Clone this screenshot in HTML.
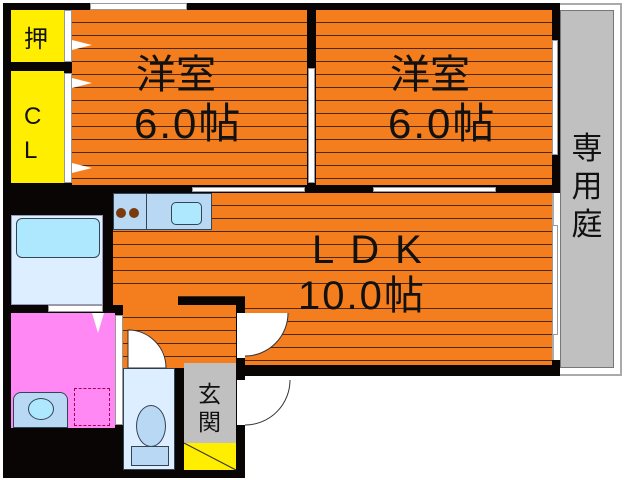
<!DOCTYPE html>
<html><head><meta charset="utf-8"><style>
body{margin:0;width:629px;height:480px;background:#fff;position:relative;overflow:hidden;font-family:"Liberation Sans","Noto Sans CJK JP",sans-serif}
div{position:absolute;box-sizing:border-box}
.b{background:#0a0505}
.o{background:#f47d1e;background-image:repeating-linear-gradient(180deg,transparent 0 12px,#4a2a10 12px 13px)}
.w{background:#fff;border:1px solid #999}
.t{color:#111;white-space:nowrap;line-height:1}
</style></head><body>
<!-- garden -->
<div style="left:552px;top:3px;width:70px;height:373px;border:2px solid #aaa;background:#fff"></div>
<div style="left:560px;top:10px;width:54px;height:358px;background:#c0c0c0;border:1px solid #777"></div>
<div class="t" style="left:570px;top:130px;font-size:31px;width:34px;line-height:38px;text-align:center">専<br>用<br>庭</div>
<!-- outer black base -->
<div class="b" style="left:3px;top:3px;width:557px;height:190px"></div>
<div class="b" style="left:3px;top:185px;width:120px;height:293px"></div>
<div class="b" style="left:100px;top:296px;width:145px;height:182px"></div>
<div class="b" style="left:236px;top:360px;width:324px;height:16px"></div>
<!-- top window -->
<div class="w" style="left:90px;top:3px;width:97px;height:7px"></div>
<!-- rooms -->
<div class="o" style="left:72px;top:10px;width:235px;height:175px"></div>
<div class="o" style="left:316px;top:10px;width:236px;height:175px"></div>
<div class="o" style="left:113px;top:193px;width:439px;height:104px"></div>
<div class="o" style="left:113px;top:296px;width:65px;height:9px"></div>
<div class="o" style="left:245px;top:296px;width:307px;height:69px"></div>
<div class="o" style="left:123px;top:305px;width:113px;height:63px"></div>
<!-- windows / doors white strips -->
<div class="w" style="left:308px;top:68px;width:7px;height:115px"></div>
<div class="w" style="left:552px;top:40px;width:6px;height:115px"></div>
<div class="w" style="left:552px;top:225px;width:6px;height:110px"></div>
<div class="w" style="left:192px;top:187px;width:113px;height:5px"></div>
<div class="w" style="left:373px;top:187px;width:123px;height:5px"></div>
<div class="w" style="left:64px;top:10px;width:8px;height:52px"></div>
<div class="w" style="left:64px;top:73px;width:8px;height:110px"></div>
<div style="left:237px;top:313px;width:8px;height:45px;background:#fff"></div>
<div style="left:237px;top:380px;width:8px;height:45px;background:#fff"></div>
<!-- closets -->
<div style="left:11px;top:10px;width:53px;height:52px;background:#ffee00"></div>
<div style="left:11px;top:71px;width:53px;height:112px;background:#ffee00"></div>
<div class="t" style="left:24px;top:28px;font-size:24px">押</div>
<div class="t" style="left:24px;top:100px;font-size:24px;line-height:34px">C<br>L</div>
<!-- kitchen -->
<div style="left:113px;top:193px;width:99px;height:37px;background:#b8d8f4;border:1px solid #345"></div>
<div style="left:146px;top:193px;width:1px;height:37px;background:#345"></div>
<div style="left:116px;top:208px;width:10px;height:10px;border-radius:50%;background:#7a3a10"></div>
<div style="left:129px;top:208px;width:10px;height:10px;border-radius:50%;background:#7a3a10"></div>
<div style="left:171px;top:202px;width:31px;height:23px;border-radius:5px;background:#aee8ff;border:1px solid #345"></div>
<!-- bath -->
<div style="left:11px;top:215px;width:92px;height:90px;background:#dceeff;border:1px solid #99b"></div>
<div style="left:16px;top:218px;width:84px;height:40px;background:#aee8ff;border:1px solid #345;border-radius:6px"></div>
<div class="w" style="left:48px;top:305px;width:55px;height:7px"></div>
<!-- washroom -->
<div style="left:11px;top:313px;width:104px;height:115px;background:#ff88f4"></div>
<div class="w" style="left:115px;top:315px;width:8px;height:110px"></div>
<div style="left:74px;top:388px;width:36px;height:38px;border:1px dashed #a05"></div>
<div style="left:13px;top:392px;width:55px;height:36px;background:#b8d8f4;border:1px solid #345;border-radius:8px 8px 0 0"></div>
<div style="left:28px;top:398px;width:26px;height:22px;background:#aee8ff;border:1px solid #345;border-radius:50%"></div>
<!-- toilet -->
<div style="left:123px;top:368px;width:52px;height:102px;background:#dceeff;border:1px solid #345"></div>
<div style="left:136px;top:405px;width:30px;height:42px;background:#b8d8f4;border:1px solid #345;border-radius:50%"></div>
<div style="left:131px;top:446px;width:38px;height:20px;background:#b8d8f4;border:1px solid #345"></div>
<!-- genkan -->
<div style="left:184px;top:363px;width:52px;height:80px;background:#c0c0c0"></div>
<div style="left:184px;top:443px;width:52px;height:27px;background:#ffee00"></div>
<div class="t" style="left:198px;top:380px;font-size:23px;line-height:28px">玄<br>関</div>
<svg style="position:absolute;left:0;top:0" width="629" height="480">
<g fill="#fff" stroke="#333" stroke-width="1">
<path d="M128 368 V330 A38 38 0 0 1 166 368 Z"/>
<path d="M245 313 H288 A43 43 0 0 1 245 356 Z" stroke="none"/>
<path d="M288 313 A43 43 0 0 1 245 356" fill="none"/>
<path d="M245 380 H290 A45 45 0 0 1 245 425 Z" stroke="none"/>
<path d="M290 380 A45 45 0 0 1 245 425" fill="none"/>
<path d="M72 40 L92 45 L72 50Z M72 78 L92 83 L72 88Z M72 163 L92 168 L72 173Z M92 313 L98 333 L104 313Z" stroke="none"/>
</g>
<line x1="184" y1="443" x2="236" y2="470" stroke="#333"/>
</svg>
<!-- labels -->
<div class="t" style="left:136px;top:55px;font-size:40px">洋室</div>
<div class="t" style="left:134px;top:103px;font-size:42px;letter-spacing:2px">6.0帖</div>
<div class="t" style="left:390px;top:55px;font-size:40px">洋室</div>
<div class="t" style="left:388px;top:103px;font-size:42px;letter-spacing:2px">6.0帖</div>
<div class="t" style="left:312px;top:230px;font-size:40px;letter-spacing:16px">LDK</div>
<div class="t" style="left:298px;top:276px;font-size:40px;letter-spacing:2px">10.0帖</div>
</body></html>
